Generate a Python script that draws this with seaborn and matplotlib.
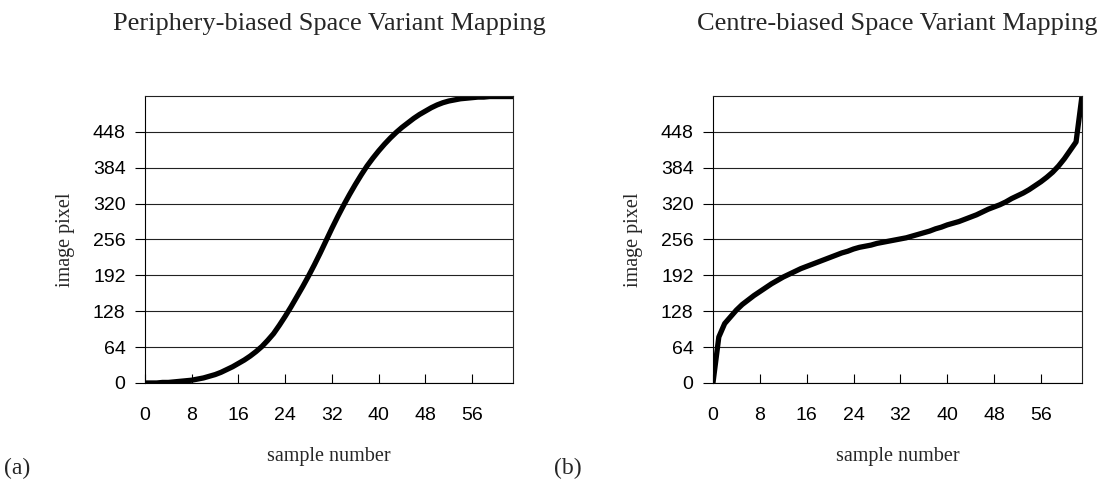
import seaborn as sns
import matplotlib.pyplot as plt
import numpy as np
import pandas as pd

sns.set_style('white')
plt.rcParams['font.family'] = ['Liberation Sans', 'DejaVu Sans']

# sample index 0..63 and the image pixel each sample maps to
sample = list(range(64))
periphery = [0, 0, 0, 1, 1, 2, 3, 4, 5, 7,
             9, 12, 15, 19, 24, 29, 35, 41, 48, 56,
             65, 76, 88, 103, 119, 136, 154, 172, 191, 211,
             232, 254, 276, 297, 317, 336, 354, 371, 387, 401,
             414, 426, 437, 447, 456, 464, 472, 479, 485, 491,
             496, 500, 503, 505, 507, 508, 509, 510, 510, 511,
             511, 511, 511, 511]
centre = [0, 82, 106, 118, 130, 140, 148, 156, 163, 170,
          177, 183, 189, 194, 199, 204, 208, 212, 216, 220,
          224, 228, 232, 235, 239, 242, 244, 246, 249, 251,
          253, 255, 257, 259, 262, 265, 268, 271, 275, 278,
          282, 285, 288, 292, 296, 300, 305, 310, 314, 318,
          323, 329, 334, 339, 345, 352, 359, 367, 376, 387,
          400, 415, 430, 511]

titles = ['Periphery-biased Space Variant Mapping', 'Centre-biased Space Variant Mapping']
tags = ['(a)', '(b)']
xticks = list(range(0, 57, 8))
yticks = list(range(0, 449, 64))

df = pd.DataFrame({'sample': sample, 'periphery': periphery, 'centre': centre})

fig = plt.figure(figsize=(11.14, 4.84), dpi=100)
ax1 = fig.add_axes([0.1302, 0.2087, 0.3303, 0.593])
ax2 = fig.add_axes([0.6400, 0.2087, 0.3312, 0.593])

serif = ['Liberation Serif', 'DejaVu Serif']

for ax, col, title, tag, tx in zip([ax1, ax2], ['periphery', 'centre'], titles, tags, [0.004, 0.497]):
    ax.yaxis.grid(True, color='#222222', lw=0.8)
    ax.set_axisbelow(True)
    sns.lineplot(data=df, x='sample', y=col, ax=ax, color='black', lw=3.8,
                 solid_capstyle='round', solid_joinstyle='round')
    ax.set_xlim(0, 63)
    ax.set_ylim(0, 512)
    ax.set_xticks(xticks)
    ax.set_yticks(yticks)
    ax.tick_params(axis='x', direction='in', bottom=True, length=6.5, width=0.8,
                   pad=17, labelsize=14, colors='black')
    ax.tick_params(axis='y', direction='out', left=True, length=7, width=0.8,
                   pad=7, labelsize=14, colors='black')
    for s in ax.spines.values():
        s.set_color('#222222')
        s.set_linewidth(0.8)
    ax.spines['left'].set_color('black')
    ax.spines['bottom'].set_color('black')

    ax.set_xlabel('sample number', fontsize=14.5, family=serif)
    ax.xaxis.label.set_va('center')
    ax.xaxis.set_label_coords(0.5, -0.255)
    ax.set_ylabel('image pixel', fontsize=14.5, family=serif)
    ax.yaxis.label.set_va('center')
    ax.yaxis.set_label_coords(-0.215, 0.5)

    ax.text(0.5, 1.252, title, transform=ax.transAxes, ha='center', va='center',
            fontsize=19, family=serif)
    fig.text(tx, 0.033, tag, ha='left', va='center', fontsize=17, family=serif)

fig.savefig('out.png', dpi=100)
